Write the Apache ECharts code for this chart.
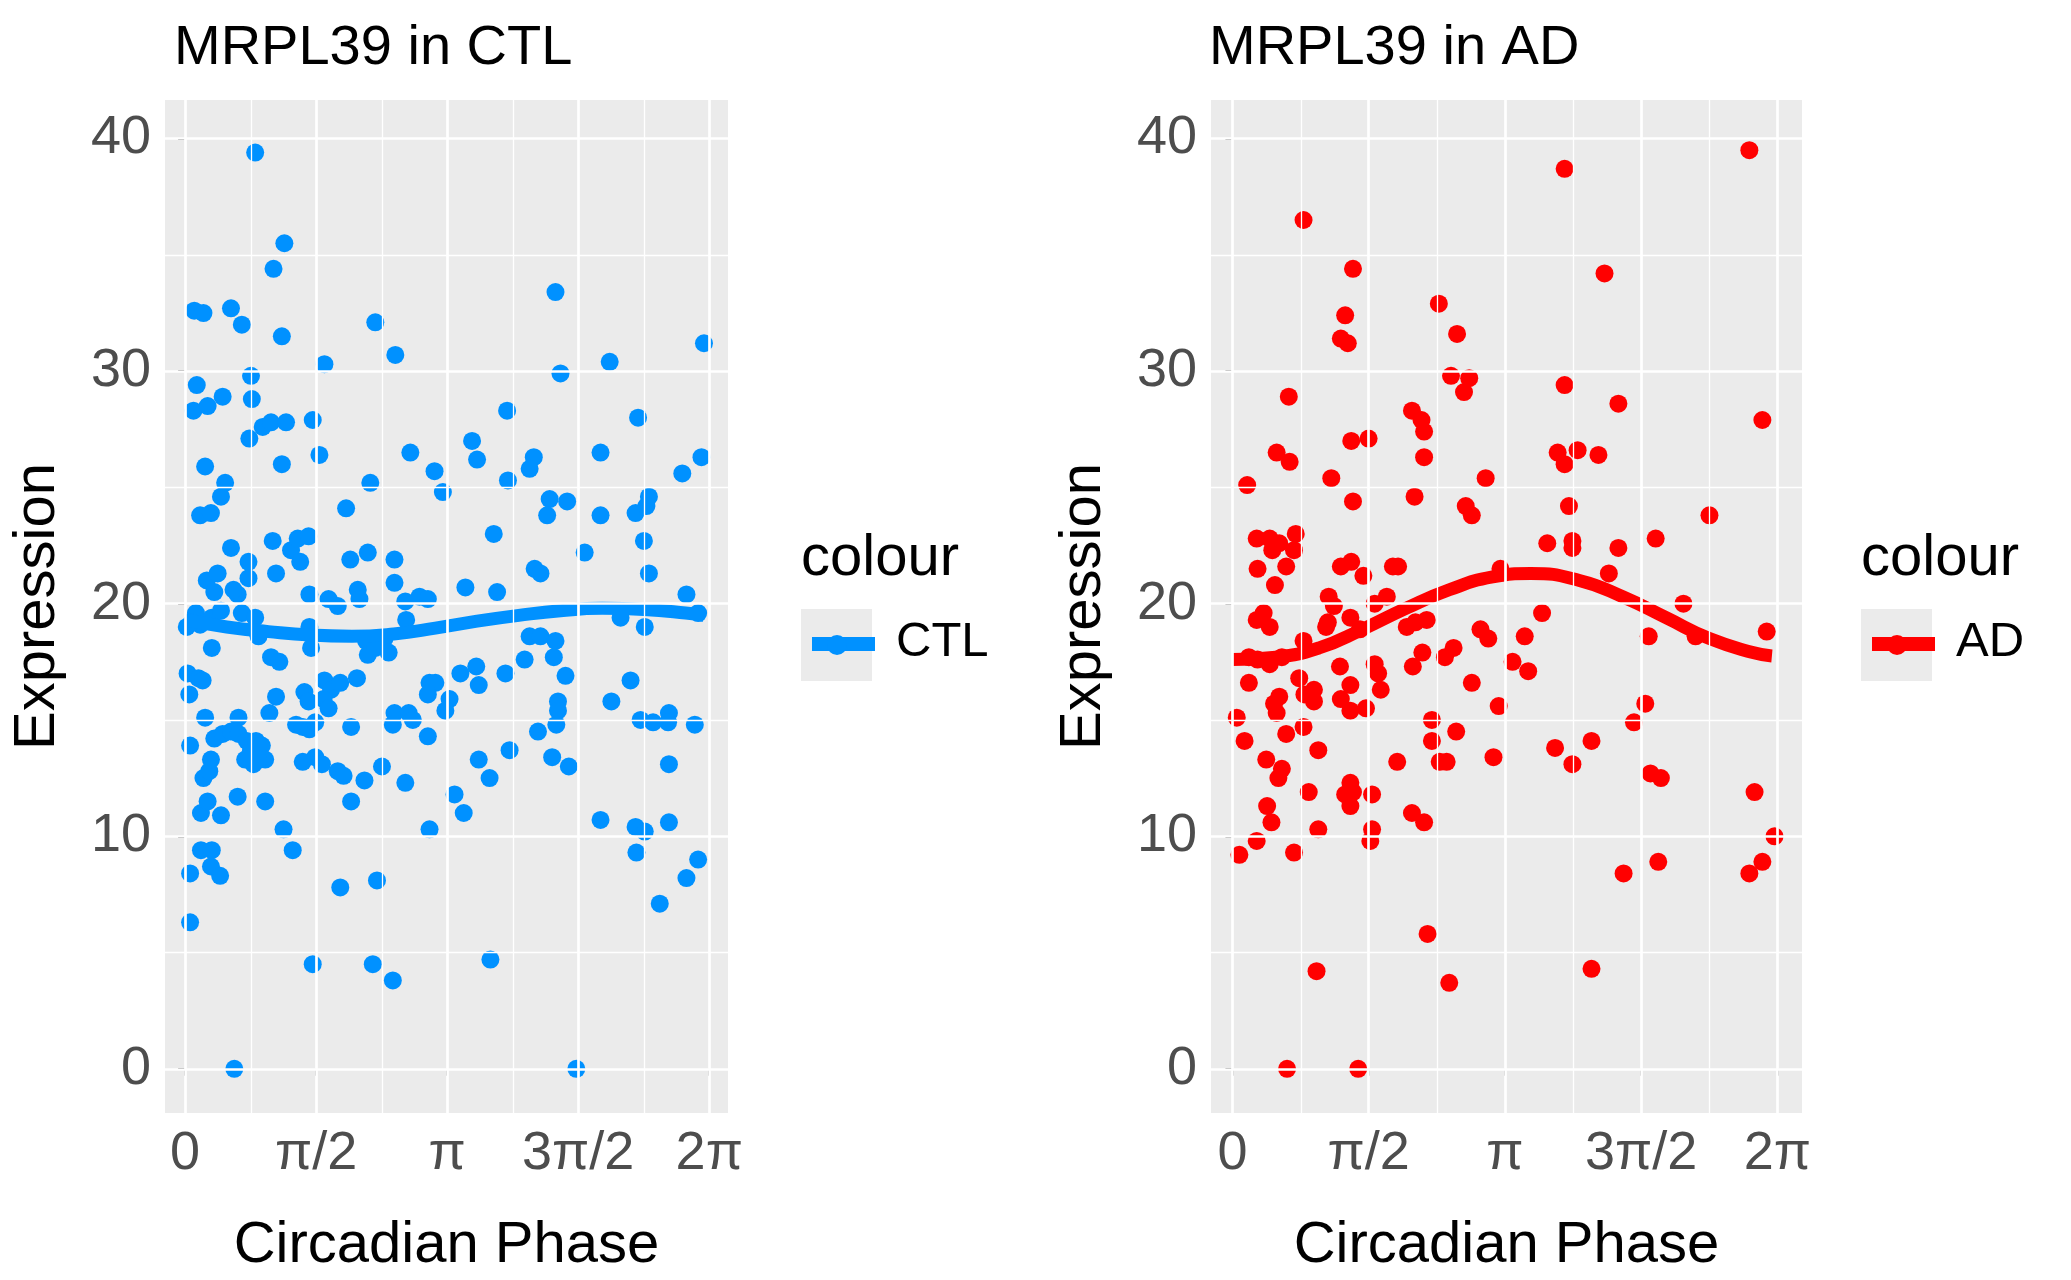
<!DOCTYPE html>
<html>
<head>
<meta charset="utf-8">
<script src="https://cdn.jsdelivr.net/npm/echarts@6/dist/echarts.min.js"></script>
<style>html,body{margin:0;padding:0;background:#fff}#chart{width:2071px;height:1280px}</style>
</head>
<body>
<div id="chart"></div>
<script>
const PI = Math.PI;
const xTickValues = [0, PI / 2, PI, 3 * PI / 2, 2 * PI];
const xTickLabels = ["0", "π/2", "π", "3π/2", "2π"];
const yTickValues = [0, 10, 20, 30, 40];

// CTL points [phase, expression]
const ctlPoints = [
  [0.84,39.4],[1.19,35.5],[1.06,34.4],[1.16,31.5],[0.11,32.6],[0.22,32.5],[0.55,32.7],[0.68,32.0],[2.28,32.1],[2.52,30.7],
  [1.67,30.3],[4.44,33.4],[4.50,29.9],[5.09,30.4],[6.22,31.2],[0.14,29.4],[0.10,28.3],[0.27,28.5],[0.45,28.9],[0.79,29.8],
  [0.80,28.8],[0.77,27.1],[0.93,27.6],[1.03,27.8],[1.21,27.8],[1.53,27.9],[1.16,26.0],[1.61,26.4],[0.24,25.9],[0.48,25.2],
  [0.43,24.6],[0.18,23.8],[0.31,23.9],[2.70,26.5],[2.99,25.7],[3.09,24.8],[3.44,27.0],[3.50,26.2],[3.86,28.3],[3.87,25.3],
  [4.18,26.3],[4.13,25.8],[4.98,26.5],[5.43,28.0],[5.56,24.6],[5.96,25.6],[6.19,26.3],[2.22,25.2],[1.93,24.1],[0.55,22.4],
  [0.76,21.8],[1.05,22.7],[1.27,22.3],[1.35,22.8],[1.48,22.9],[1.38,21.8],[1.09,21.3],[1.98,21.9],[2.19,22.2],[2.51,21.9],
  [4.37,24.5],[4.58,24.4],[4.34,23.8],[4.98,23.8],[3.70,23.0],[5.40,23.9],[5.53,24.2],[5.50,22.7],[4.79,22.2],[4.19,21.5],
  [4.26,21.3],[5.56,21.3],[0.26,21.0],[0.39,21.3],[0.35,20.5],[0.63,20.4],[0.58,20.6],[0.76,21.1],[1.49,20.4],[1.72,20.2],
  [1.83,19.9],[2.07,20.6],[2.09,20.2],[2.51,20.9],[2.64,20.1],[2.81,20.3],[2.91,20.2],[3.36,20.7],[3.74,20.5],[5.22,19.4],
  [6.01,20.4],[6.15,19.6],[0.13,19.6],[0.18,19.1],[0.32,19.4],[0.43,19.7],[0.68,19.6],[0.84,19.4],[1.49,19.0],[2.17,18.4],
  [2.39,18.5],[2.65,19.3],[0.32,18.1],[0.88,18.6],[1.03,17.7],[1.13,17.5],[1.51,18.1],[2.19,17.8],[2.28,18.1],[2.44,17.9],
  [4.13,18.6],[4.26,18.6],[4.44,18.4],[5.51,19.0],[0.03,17.0],[0.16,16.8],[0.21,16.7],[1.67,16.7],[1.75,16.3],[1.86,16.6],
  [2.06,16.8],[2.93,16.6],[3.00,16.6],[3.30,17.0],[3.49,17.3],[3.52,16.5],[3.84,17.0],[4.07,17.6],[4.42,17.7],[4.56,16.9],
  [5.34,16.7],[0.05,16.1],[1.09,16.0],[1.43,16.2],[1.48,15.8],[1.66,15.9],[1.72,15.5],[2.91,16.1],[3.17,15.9],[3.12,15.4],
  [5.11,15.8],[4.47,15.8],[2.51,15.3],[2.49,14.8],[2.68,15.3],[2.73,15.0],[4.47,15.4],[4.45,14.8],[5.46,15.0],[5.61,14.9],
  [5.80,15.3],[5.79,14.9],[6.11,14.8],[0.24,15.1],[0.64,15.1],[1.01,15.3],[1.33,14.8],[1.41,14.7],[1.49,14.6],[1.56,14.9],
  [1.99,14.7],[2.91,14.3],[4.23,14.5],[0.06,13.9],[0.35,14.2],[0.45,14.4],[0.55,14.5],[0.64,14.4],[0.74,14.1],[0.79,13.7],
  [0.85,14.1],[0.92,13.9],[0.82,13.1],[0.96,13.3],[0.72,13.3],[0.88,13.3],[1.41,13.2],[1.56,13.4],[1.64,13.1],[1.83,12.8],
  [1.90,12.6],[2.15,12.4],[2.36,13.0],[2.64,12.3],[3.52,13.3],[3.65,12.5],[3.89,13.7],[4.40,13.4],[4.60,13.0],[5.80,13.1],
  [0.22,12.5],[0.29,12.8],[0.31,13.3],[0.63,11.7],[0.96,11.5],[1.99,11.5],[3.23,11.8],[3.34,11.0],[0.19,11.0],[0.27,11.5],
  [0.43,10.9],[1.18,10.3],[2.93,10.3],[4.98,10.7],[5.40,10.4],[5.51,10.2],[5.80,10.6],[0.19,9.4],[0.32,9.4],[1.29,9.4],
  [5.41,9.3],[6.15,9.0],[0.06,8.4],[0.31,8.7],[0.42,8.3],[2.30,8.1],[1.86,7.8],[6.01,8.2],[5.69,7.1],[0.06,6.3],
  [1.53,4.5],[2.25,4.5],[2.49,3.8],[3.66,4.7],[0.59,0],[4.69,0],[0.02,19.0],[0.08,19.2]
];

// AD points [phase, expression]
const adPoints = [
  [5.96,39.5],[3.83,38.7],[0.82,36.5],[1.39,34.4],[4.29,34.2],[2.38,32.9],[1.30,32.4],[2.59,31.6],[1.25,31.4],[1.33,31.2],
  [2.52,29.8],[2.73,29.7],[3.83,29.4],[2.67,29.1],[4.45,28.6],[0.65,28.9],[2.07,28.3],[2.18,27.9],[6.11,27.9],[2.21,27.4],
  [1.37,27.0],[1.57,27.1],[0.51,26.5],[0.66,26.1],[2.21,26.3],[3.75,26.5],[3.98,26.6],[4.22,26.4],[3.83,26.0],[0.17,25.1],
  [1.14,25.4],[2.92,25.4],[2.10,24.6],[1.39,24.4],[2.69,24.2],[2.76,23.8],[3.88,24.2],[5.50,23.8],[0.28,22.8],[0.43,22.8],
  [0.73,23.0],[0.71,22.3],[0.46,22.3],[0.54,22.6],[3.92,22.7],[3.92,22.4],[4.45,22.4],[4.88,22.8],[3.63,22.6],[0.29,21.5],
  [0.62,21.6],[1.25,21.6],[1.37,21.8],[1.85,21.6],[1.91,21.6],[1.51,21.2],[0.49,20.8],[4.34,21.3],[3.09,21.5],[1.78,20.3],
  [1.64,20.0],[1.17,19.9],[1.36,19.4],[1.11,20.3],[5.20,20.0],[3.57,19.6],[0.28,19.3],[0.36,19.6],[0.43,19.0],[1.08,19.0],
  [1.47,18.9],[2.01,19.0],[2.11,19.2],[2.24,19.3],[2.86,18.9],[1.10,19.2],[3.37,18.6],[4.80,18.6],[5.34,18.6],[6.16,18.8],
  [2.19,17.9],[2.55,18.1],[2.95,18.5],[0.19,17.7],[0.29,17.6],[0.43,17.4],[0.57,17.7],[0.82,18.4],[1.24,17.3],[1.64,17.4],
  [1.68,17.0],[2.08,17.3],[2.45,17.7],[3.23,17.5],[3.41,17.1],[0.77,16.8],[0.94,16.3],[1.36,16.5],[1.71,16.3],[2.76,16.6],
  [0.19,16.6],[0.48,15.7],[0.54,16.0],[0.83,16.1],[0.94,15.8],[0.51,15.3],[1.36,15.4],[1.54,15.5],[3.07,15.6],[4.76,15.7],
  [4.63,14.9],[0.05,15.1],[2.30,15.0],[1.25,15.9],[0.14,14.1],[0.82,14.7],[0.62,14.4],[2.30,14.1],[2.58,14.5],[4.14,14.1],
  [3.72,13.8],[0.99,13.7],[1.90,13.2],[2.39,13.2],[2.47,13.2],[3.01,13.4],[3.92,13.1],[0.39,13.3],[4.82,12.7],[4.94,12.5],
  [0.53,12.5],[0.57,12.9],[0.88,11.9],[1.30,11.8],[1.39,11.9],[1.61,11.8],[1.36,12.3],[1.36,11.3],[6.02,11.9],[0.40,11.3],
  [2.07,11.0],[2.21,10.6],[0.45,10.6],[0.99,10.3],[1.61,10.3],[1.59,9.8],[6.25,10.0],[0.08,9.2],[0.28,9.8],[0.71,9.3],
  [4.51,8.4],[4.91,8.9],[5.96,8.4],[6.11,8.9],[2.25,5.8],[0.97,4.2],[4.14,4.3],[2.50,3.7],[0.63,0],[1.45,0]
];

// fitted curves [phase, expression]
const ctlFit = [[0,19.3],[0.5,19.0],[1,18.8],[1.5,18.65],[2,18.6],[2.5,18.7],[3,18.95],[3.5,19.25],[4,19.5],[4.5,19.7],[5,19.8],[5.5,19.75],[6,19.6],[6.22,19.5]];
const adFit = [[0,17.6],[0.5,17.7],[1,18.1],[1.5,18.9],[2,19.8],[2.5,20.6],[3,21.15],[3.44,21.3],[4,21.0],[4.5,20.3],[5,19.4],[5.5,18.5],[6,17.9],[6.22,17.75]];

const BLUE = "#0091FF";
const RED = "#FF0000";
const FONT = "Liberation Sans";

const xMajor = xTickValues;
const xMinor = [PI / 4, 3 * PI / 4, 5 * PI / 4, 7 * PI / 4];
const yMajor = yTickValues;
const yMinor = [5, 15, 25, 35];

function gridLines(idx) {
  const major = { color: "#fff", width: 2.7, type: "solid" };
  const minor = { color: "#fff", width: 1.3, type: "solid" };
  const data = [];
  xMajor.forEach(v => data.push({ xAxis: v, lineStyle: major }));
  xMinor.forEach(v => data.push({ xAxis: v, lineStyle: minor }));
  yMajor.forEach(v => data.push({ yAxis: v, lineStyle: major }));
  yMinor.forEach(v => data.push({ yAxis: v, lineStyle: minor }));
  return {
    type: "line", xAxisIndex: idx, yAxisIndex: idx, data: [], z: 1, silent: true,
    markLine: { silent: true, symbol: "none", label: { show: false }, animation: false, data: data }
  };
}

function xAxisFor(idx, min, max) {
  return {
    type: "value", gridIndex: idx, min: min, max: max,
    name: "Circadian Phase", nameLocation: "middle", nameGap: 104,
    nameTextStyle: { fontFamily: FONT, fontSize: 58, color: "#000" },
    axisLine: { show: false }, splitLine: { show: false },
    axisTick: { show: true, customValues: xTickValues, length: 7, lineStyle: { color: "#333", width: 2 } },
    axisLabel: {
      customValues: xTickValues, margin: 14, fontFamily: FONT, fontSize: 54, color: "#4D4D4D",
      formatter: v => xTickLabels[xTickValues.findIndex(t => Math.abs(t - v) < 1e-6)] || ""
    }
  };
}

function yAxisFor(idx) {
  return {
    type: "value", gridIndex: idx, min: -1.9, max: 41.66,
    name: "Expression", nameLocation: "middle", nameGap: 98,
    nameTextStyle: { fontFamily: FONT, fontSize: 58, color: "#000" },
    axisLine: { show: false }, splitLine: { show: false },
    axisTick: { show: true, customValues: yTickValues, length: 7, lineStyle: { color: "#333", width: 2 } },
    axisLabel: { customValues: yTickValues, margin: 14, fontFamily: FONT, fontSize: 54, color: "#4D4D4D" }
  };
}

function legend(left, color, label) {
  return [
    { type: "text", left: left, top: 530, style: { text: "colour", font: "58px " + FONT, fill: "#000" } },
    { type: "rect", left: left, top: 609, shape: { width: 71, height: 72 }, style: { fill: "#EBEBEB" } },
    { type: "line", left: left + 4, top: 637, shape: { x1: 0, y1: 7, x2: 63, y2: 7 }, style: { stroke: color, lineWidth: 14 } },
    { type: "circle", left: left + 26, top: 635, shape: { r: 10 }, style: { fill: color } },
    { type: "text", left: left + 95, top: 618, style: { text: label, font: "49px " + FONT, fill: "#000" } }
  ];
}

const chart = echarts.init(document.getElementById("chart"), null, { renderer: "canvas" });
chart.setOption({
  animation: false,
  backgroundColor: "#fff",
  title: [
    { text: "MRPL39 in CTL", left: 169, top: 16, textStyle: { fontFamily: FONT, fontSize: 56, fontWeight: "normal", color: "#000" } },
    { text: "MRPL39 in AD", left: 1204, top: 16, textStyle: { fontFamily: FONT, fontSize: 56, fontWeight: "normal", color: "#000" } }
  ],
  grid: [
    { left: 165, top: 100, width: 563, height: 1019, backgroundColor: "#EBEBEB", show: true, borderWidth: 0 },
    { left: 1211, top: 100, width: 591, height: 1019, backgroundColor: "#EBEBEB", show: true, borderWidth: 0 }
  ],
  xAxis: [xAxisFor(0, -0.241, 6.508), xAxisFor(1, -0.247, 6.567)],
  yAxis: [yAxisFor(0), yAxisFor(1)],
  graphic: legend(801, BLUE, "CTL").concat(legend(1861, RED, "AD")),
  series: [
    gridLines(0),
    gridLines(1),
    { type: "scatter", xAxisIndex: 0, yAxisIndex: 0, data: ctlPoints, symbolSize: 18, itemStyle: { color: BLUE, opacity: 1 }, z: 3 },
    { type: "scatter", xAxisIndex: 1, yAxisIndex: 1, data: adPoints, symbolSize: 18, itemStyle: { color: RED, opacity: 1 }, z: 3 },
    { type: "line", xAxisIndex: 0, yAxisIndex: 0, data: ctlFit, smooth: true, showSymbol: false, lineStyle: { color: BLUE, width: 13 }, z: 4 },
    { type: "line", xAxisIndex: 1, yAxisIndex: 1, data: adFit, smooth: true, showSymbol: false, lineStyle: { color: RED, width: 13 }, z: 4 }
  ]
});
</script>
</body>
</html>
